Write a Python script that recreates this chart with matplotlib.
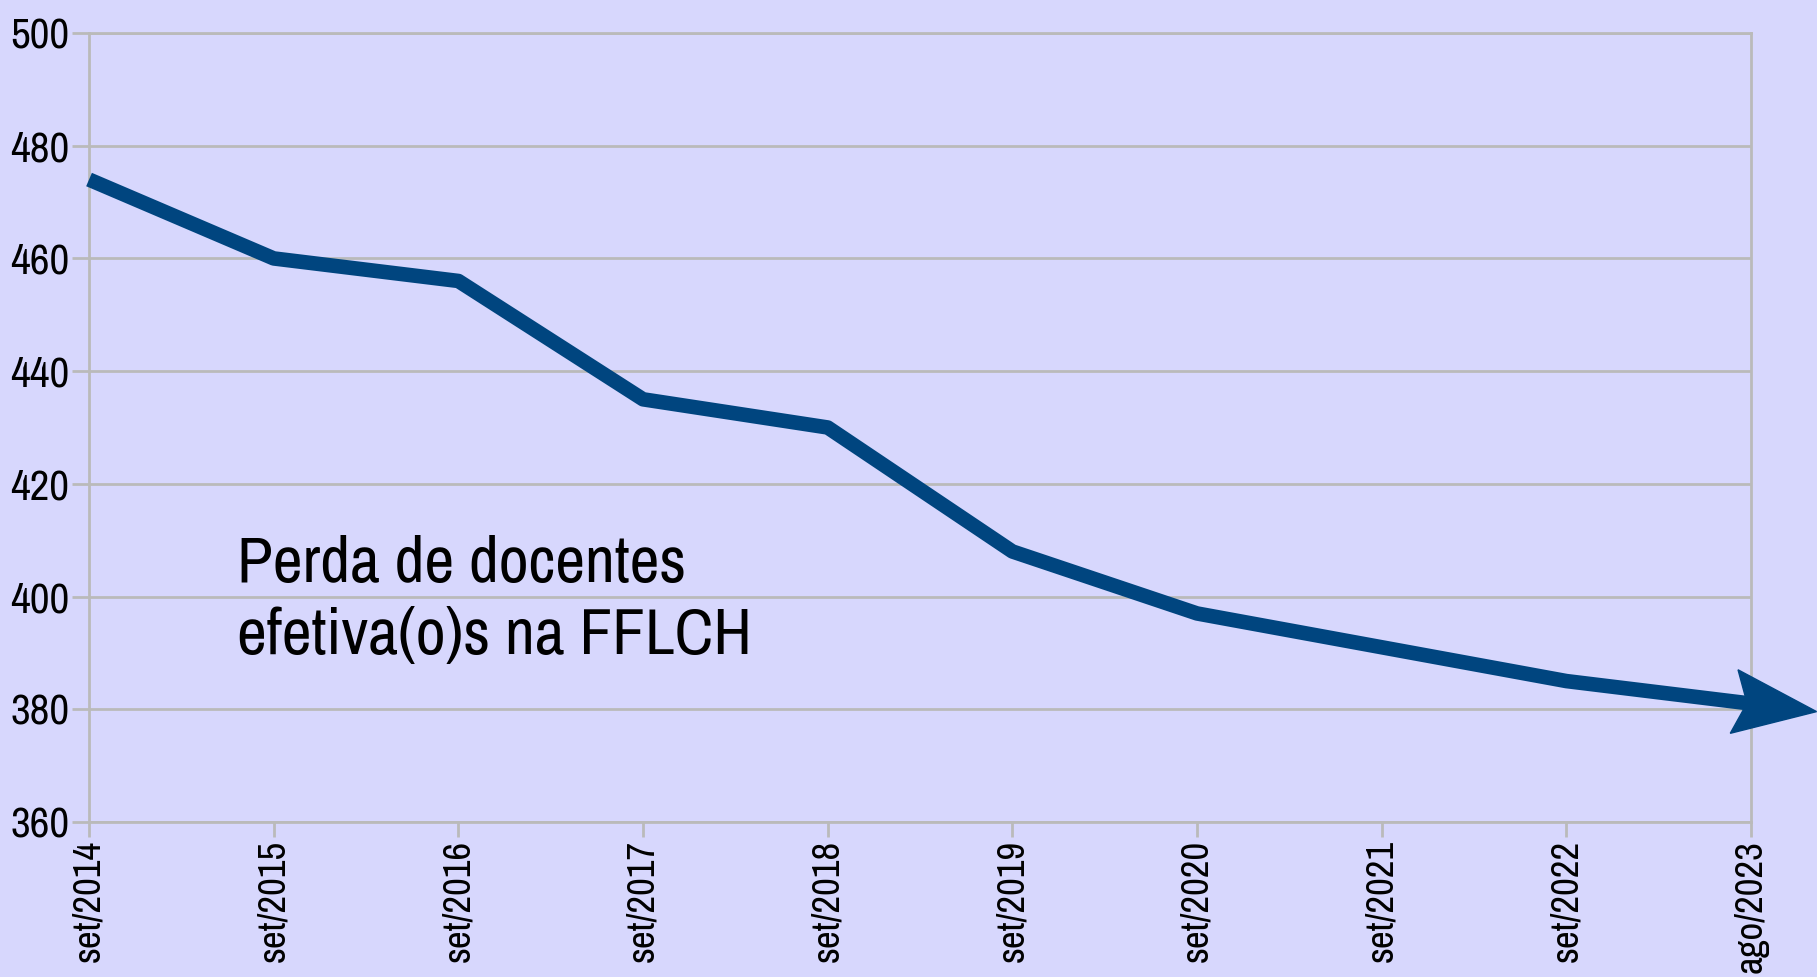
import matplotlib
matplotlib.use("Agg")
import matplotlib.pyplot as plt
from matplotlib import font_manager
from matplotlib.patches import Polygon
from matplotlib.transforms import IdentityTransform
import numpy as np

# dados
periodos = ["set/2014", "set/2015", "set/2016", "set/2017", "set/2018",
            "set/2019", "set/2020", "set/2021", "set/2022", "ago/2023"]
docentes = [474, 460, 456, 435, 430, 408, 397, 391, 385, 381]
yticks = [360, 380, 400, 420, 440, 460, 480, 500]
titulo = "Perda de docentes\nefetiva(o)s na FFLCH"

# fonte condensada regular, se houver
condensed = [f for f in font_manager.fontManager.ttflist
             if ("Narrow" in f.name or "ondensed" in f.name
                 or "ondensed" in f.fname)
             and f.style == "normal" and f.weight in (400, "normal", "regular")
             and "Semi" not in f.fname]
condensed.sort(key=lambda f: (0 if "Narrow" in f.name else
                              1 if "Roboto" in f.fname else 2, f.fname))
if condensed:
    fp = font_manager.FontProperties(fname=condensed[0].fname)
else:
    fp = font_manager.FontProperties(family="DejaVu Sans")

bg = "#d7d7fd"
azul = "#00457f"
cinza = "#bababa"

fig = plt.figure(figsize=(18.17, 9.77), dpi=100, facecolor=bg)
ax = fig.add_axes([0.049, 0.1587, 0.9147, 0.8075])
ax.set_facecolor(bg)

x = np.arange(len(periodos))
ax.plot(x, docentes, color=azul, lw=10.5, solid_joinstyle="round",
        solid_capstyle="butt", clip_on=False, zorder=3)

ax.set_xlim(0, len(periodos) - 1)
ax.set_ylim(360, 500)
ax.set_yticks(yticks)
ax.set_xticks(x)
ax.set_xticklabels(periodos, rotation=90)
ax.set_yticklabels([str(v) for v in yticks])
for lab in ax.get_xticklabels():
    lab.set_fontproperties(fp)
    lab.set_fontsize(28)
for lab in ax.get_yticklabels():
    lab.set_fontproperties(fp)
    lab.set_fontsize(31)
ax.tick_params(axis="y", length=12, width=2, color=cinza, pad=2)
ax.tick_params(axis="x", length=11, width=2, color=cinza, pad=2)
ax.grid(axis="y", color=cinza, lw=2)
for s in ax.spines.values():
    s.set_color(cinza)
    s.set_linewidth(2)

ax.text(0.8, 389.8, titulo, fontproperties=fp, fontsize=47, va="baseline",
        ha="left", linespacing=1.3)

# ponta da seta em pixels, seguindo a direção do último segmento
p0 = ax.transData.transform((x[-2], docentes[-2]))
p1 = ax.transData.transform((x[-1], docentes[-1]))
d = (p1 - p0) / np.hypot(*(p1 - p0))
n = np.array([-d[1], d[0]])
head = [p1 + 66 * d, p1 - 17 * d + 32 * n, p1 - 4 * d, p1 - 17 * d - 32 * n]
fig.patches.append(Polygon(head, closed=True, color=azul,
                           transform=IdentityTransform(), figure=fig, zorder=4))

fig.savefig("out.png", dpi=100, facecolor=bg)
